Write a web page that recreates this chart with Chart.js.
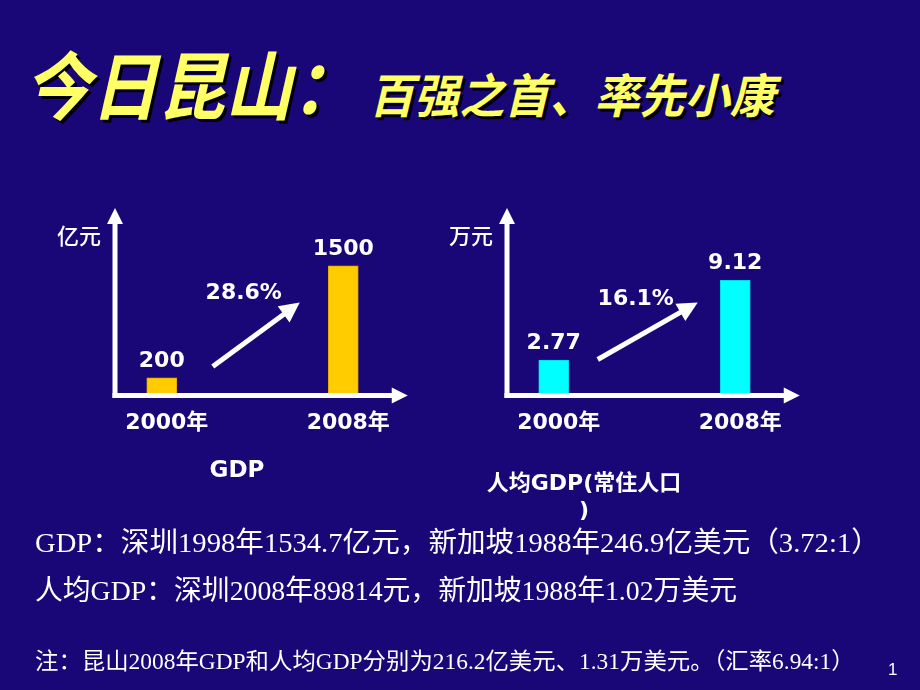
<!DOCTYPE html>
<html>
<head>
<meta charset="utf-8">
<script src="https://cdn.jsdelivr.net/npm/chart.js@4.4.1/dist/chart.umd.min.js"></script>
<style>
  body { margin: 0; background: #1a0777; }
  #slide { position: relative; width: 920px; height: 690px; overflow: hidden; background: #1a0777; }
  #slide canvas { position: absolute; left: 0; top: 0; }
  .t { position: absolute; white-space: nowrap; line-height: 1; transform-origin: 0 0; }
  .title { color: #ffff66; font-family: "Noto Sans CJK SC"; font-weight: 700; font-style: italic; text-shadow: 3px 3px 0 #000; }
  .body { color: #fff; font-family: "Liberation Serif", "Noto Sans CJK SC"; }
  .cap { color: #fff; font-family: "DejaVu Sans", "Noto Sans CJK SC"; font-weight: bold; text-align: center; }
</style>
</head>
<body>
<div id="slide">
  <div class="t title" style="left:24px;top:45px;font-size:72px" data-sx="0.93" data-sy="1.03">今日昆山：</div>
  <div class="t title" style="left:369px;top:69px;font-size:46px" data-sx="0.98" data-sy="1.02">百强之首、率先小康</div>

  <canvas id="chartGdp" width="920" height="690"></canvas>
  <canvas id="chartPerCapita" width="920" height="690"></canvas>

  <div class="t cap" style="left:187px;width:100px;top:458px;font-size:23px">GDP</div>
  <div class="t cap" style="left:464px;width:240px;top:469px;font-size:22px;line-height:27px">人均GDP(常住人口<br>)</div>

  <div class="t body" style="left:35px;top:529px;font-size:28px" data-w="845">GDP：深圳1998年1534.7亿元，新加坡1988年246.9亿美元（3.72:1）</div>
  <div class="t body" style="left:35px;top:577px;font-size:28px" data-w="702">人均GDP：深圳2008年89814元，新加坡1988年1.02万美元</div>
  <div class="t body" style="left:35px;top:650px;font-size:23px" data-w="820">注：昆山2008年GDP和人均GDP分别为216.2亿美元、1.31万美元。（汇率6.94:1）</div>
  <div class="t" style="left:888px;top:661px;font-size:17px;color:#fff;font-family:'Liberation Sans'">1</div>
</div>

<script>
// data
const years = ['2000年', '2008年']
const gdp = [200, 1500]              // 亿元
const gdpPerCapita = [2.77, 9.12]    // 万元
const gdpGrowth = '28.6%'
const perCapitaGrowth = '16.1%'

const labelFont = '"DejaVu Sans", "Noto Sans CJK SC"'

function arrow(ctx, x1, y1, x2, y2, w, len, half) {
  const ang = Math.atan2(y2 - y1, x2 - x1)
  const c = Math.cos(ang), s = Math.sin(ang)
  ctx.lineWidth = w
  ctx.beginPath()
  ctx.moveTo(x1, y1)
  ctx.lineTo(x2 - (len - 2) * c, y2 - (len - 2) * s)
  ctx.stroke()
  ctx.beginPath()
  ctx.moveTo(x2, y2)
  ctx.lineTo(x2 - len * c + half * s, y2 - len * s - half * c)
  ctx.lineTo(x2 - len * c - half * s, y2 - len * s + half * c)
  ctx.closePath()
  ctx.fill()
}

// axes with arrow heads, growth arrow, value labels and unit
const slideDecor = {
  id: 'slideDecor',
  afterDatasetsDraw(chart, args, o) {
    const {ctx, chartArea: a, scales: {x, y}} = chart
    const base = y.getPixelForValue(0) + 0.5
    const ax = a.left + 44
    const p0 = x.getPixelForValue(0), p1 = x.getPixelForValue(1)
    ctx.save()
    ctx.fillStyle = ctx.strokeStyle = '#fff'
    arrow(ctx, ax, base + 2.5, ax, a.top - 2, 5, 16, 8)
    arrow(ctx, ax - 2.5, base, p1 + 64.5, base, 5, 16, 8)
    const g = o.arrow
    arrow(ctx, p0 + g[0], base - g[1], p0 + g[2], base - g[3], 5, 20, 10)

    ctx.font = 'bold 22px ' + labelFont
    ctx.textAlign = 'center'
    ctx.textBaseline = 'middle'
    ctx.fillText(o.growth, p0 + 82, base - o.growthY)

    ctx.textBaseline = 'alphabetic'
    const vals = chart.data.datasets[0].data
    chart.getDatasetMeta(0).data.forEach((bar, i) => {
      ctx.fillText(String(vals[i]), bar.x, bar.y - 11)
    })

    ctx.font = '500 22px "Noto Sans CJK SC"'
    ctx.textBaseline = 'middle'
    ctx.fillText(o.unit, ax - 36, a.top + 26)
    ctx.restore()
  }
}

function makeChart(id, values, max, color, border, padLeft, padRight, decor) {
  return new Chart(document.getElementById(id), {
    type: 'bar',
    data: {
      labels: years,
      datasets: [{
        data: values,
        backgroundColor: color,
        borderColor: border,
        borderWidth: 1,
        barThickness: 30
      }]
    },
    options: {
      responsive: false,
      animation: false,
      events: [],
      layout: { padding: { left: padLeft, right: padRight, top: 210, bottom: 235 } },
      scales: {
        x: {
          grid: { display: false, drawTicks: false },
          border: { display: false },
          ticks: {
            color: '#fff',
            padding: 15,
            labelOffset: 5,
            font: { family: labelFont, size: 22, weight: 'bold' }
          },
          afterFit: (s) => { s.height = 60 }
        },
        y: { display: false, min: 0, max: max }
      },
      plugins: {
        legend: { display: false },
        tooltip: { enabled: false },
        slideDecor: decor
      }
    },
    plugins: [slideDecor]
  })
}

makeChart('chartGdp', gdp, 2150, '#ffcc00', '#e6a800', 71, 486,
  { unit: '亿元', growth: gdpGrowth, growthY: 102, arrow: [51, 29, 138, 93] })
makeChart('chartPerCapita', gdpPerCapita, 14.7, '#00ffff', '#00d8f0', 463, 94,
  { unit: '万元', growth: perCapitaGrowth, growthY: 96, arrow: [44, 36, 144, 93] })

// squeeze the text lines to the widths they have on the slide
document.querySelectorAll('.t').forEach(el => {
  const w = el.dataset.w
  if (w) el.style.transform = 'scaleX(' + (w / el.offsetWidth) + ')'
  else if (el.dataset.sx) el.style.transform = 'scale(' + el.dataset.sx + ',' + (el.dataset.sy || 1) + ')'
})
</script>
</body>
</html>
